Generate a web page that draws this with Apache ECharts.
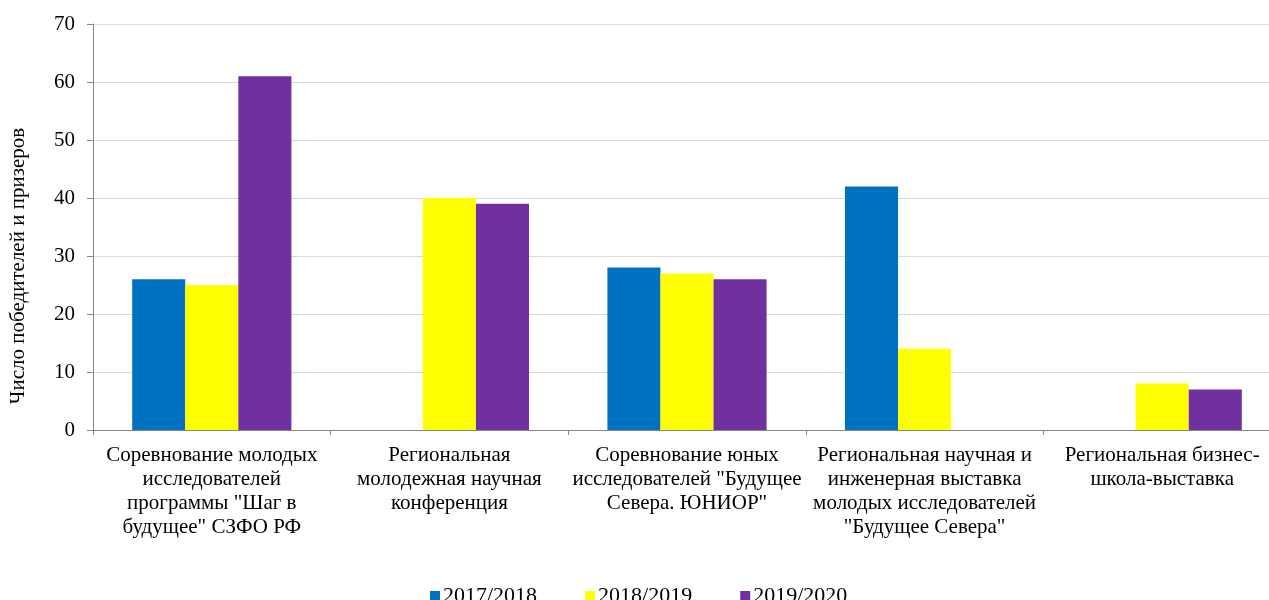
<!DOCTYPE html>
<html>
<head>
<meta charset="utf-8">
<script src="https://cdn.jsdelivr.net/npm/echarts@6/dist/echarts.min.js"></script>
<style>
  html, body { margin: 0; padding: 0; background: #fff; }
  #chart { width: 1269px; height: 600px; }
</style>
</head>
<body>
<div id="chart"></div>
<script>
  const categories = [
    "Соревнование молодых\nисследователей\nпрограммы \"Шаг в\nбудущее\" СЗФО РФ",
    "Региональная\nмолодежная научная\nконференция",
    "Соревнование юных\nисследователей \"Будущее\nСевера. ЮНИОР\"",
    "Региональная научная и\nинженерная выставка\nмолодых исследователей\n\"Будущее Севера\"",
    "Региональная бизнес-\nшкола-выставка"
  ];
  const seriesNames = ["2017/2018", "2018/2019", "2019/2020"];
  const values2017 = [26, null, 28, 42, null];
  const values2018 = [25, 40, 27, 14, 8];
  const values2019 = [61, 39, 26, null, 7];
  const colors = ["#0070C0", "#FFFF00", "#7030A0"];

  const FONT = "Liberation Serif";
  const chart = echarts.init(document.getElementById("chart"));

  const makeBar = (name, data, color) => ({
    name,
    type: "bar",
    data,
    barGap: "0%",
    barCategoryGap: "33%",
    itemStyle: { color },
  });

  chart.setOption({
    animation: false,
    textStyle: { fontFamily: FONT },
    grid: { left: 93, top: 24, width: 1188, height: 406, outerBoundsMode: "none" },
    legend: {
      top: 580,
      left: 425,
      itemWidth: 10,
      itemHeight: 10,
      itemGap: 48,
      icon: "rect",
      textStyle: { fontFamily: FONT, fontSize: 22, color: "#000", padding: [0, 0, 0, -2] },
      data: seriesNames,
    },
    xAxis: {
      type: "category",
      data: categories,
      axisLine: { lineStyle: { color: "#868686" } },
      axisTick: { show: true, length: 5, lineStyle: { color: "#868686" } },
      axisLabel: {
        interval: 0,
        margin: 13,
        fontFamily: FONT,
        fontSize: 21,
        lineHeight: 24,
        color: "#000",
        align: "center",
      },
    },
    yAxis: {
      type: "value",
      min: 0,
      max: 70,
      interval: 10,
      axisLine: { show: true, lineStyle: { color: "#868686" } },
      axisTick: { show: true, length: 6, lineStyle: { color: "#868686" } },
      axisLabel: { margin: 18, fontFamily: FONT, fontSize: 21, color: "#000" },
      splitLine: { lineStyle: { color: "#d9d9d9" } },
    },
    graphic: [{
      type: "text",
      x: 18,
      y: 266,
      rotation: Math.PI / 2,
      style: {
        text: "Число победителей и призеров",
        fontFamily: FONT,
        fontSize: 21,
        fill: "#000",
        align: "center",
        verticalAlign: "middle",
      },
    }],
    series: [
      makeBar(seriesNames[0], values2017, colors[0]),
      makeBar(seriesNames[1], values2018, colors[1]),
      makeBar(seriesNames[2], values2019, colors[2]),
    ],
  });
</script>
</body>
</html>
